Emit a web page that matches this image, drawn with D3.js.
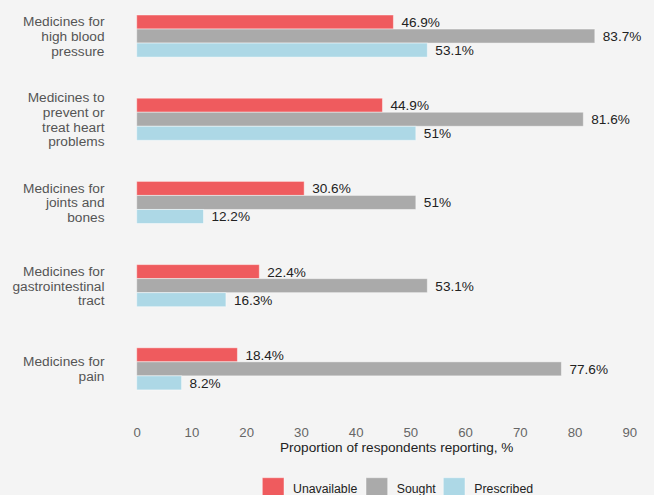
<!DOCTYPE html>
<html><head><meta charset="utf-8">
<script src="https://cdn.jsdelivr.net/npm/d3@7"></script>
<style>body{margin:0;background:#f4f4f4;}svg{display:block;font-family:"Liberation Sans",Arial,sans-serif;}</style>
</head><body><svg id="c" width="654" height="495"></svg>
<script>
const categories = [
  ["Medicines for","high blood","pressure"],
  ["Medicines to","prevent or","treat heart","problems"],
  ["Medicines for","joints and","bones"],
  ["Medicines for","gastrointestinal","tract"],
  ["Medicines for","pain"]
];
const seriesNames = ["Unavailable","Sought","Prescribed"];
const unavailable = [46.9, 44.9, 30.6, 22.4, 18.4];
const sought = [83.7, 81.6, 51, 53.1, 77.6];
const prescribed = [53.1, 51, 12.2, 16.3, 8.2];
const seriesValues = [unavailable, sought, prescribed];
const colors = ["#ef5b5e", "#aaaaaa", "#add8e6"];
const xTicks = [0,10,20,30,40,50,60,70,80,90];

const svg = d3.select("#c");
svg.append("rect").attr("width",654).attr("height",495).attr("fill","#f4f4f4");

const x = d3.scaleLinear().domain([0,90]).range([136.7,629.3]);
const step = 83.2;
const y = d3.scaleBand().domain(d3.range(categories.length)).range([15 - 0.247*step, 15 - 0.247*step + 5*step]).paddingInner(0.494).paddingOuter(0.247);
const ySub = d3.scaleBand().domain(d3.range(3)).range([0,y.bandwidth()]);

const g = svg.append("g");
categories.forEach((cat,i)=>{
  seriesValues.forEach((vals,s)=>{
    const v = vals[i];
    const y0 = y(i)+ySub(s);
    g.append("rect").attr("x",x(0)).attr("y",y0).attr("width",x(v)-x(0)).attr("height",ySub.bandwidth())
      .attr("fill",colors[s]).attr("stroke","#ffffff").attr("stroke-opacity",0.45).attr("stroke-width",1);
    g.append("text").attr("x",x(v)+8).attr("y",y0+ySub.bandwidth()/2).attr("dy","0.36em")
      .attr("font-size",13.6).attr("fill","#222").text(d3.format("")(v)+"%");
  });
  const cy = y(i)+y.bandwidth()/2;
  const lh = 14.8;
  const t = g.append("text").attr("text-anchor","end").attr("font-size",13.7).attr("fill","#555");
  cat.forEach((line,k)=>{
    t.append("tspan").attr("x",104.5).attr("y",cy+(k-(cat.length-1)/2)*lh).attr("dy","0.36em").text(line);
  });
});

const axis = d3.axisBottom(x).tickValues(xTicks).tickSize(0).tickPadding(0);
const ax = svg.append("g").attr("transform","translate(0,436.5)").call(axis);
ax.select(".domain").remove();
ax.selectAll("text").attr("font-size",13.2).attr("fill","#666").attr("font-family","Liberation Sans, Arial, sans-serif").attr("dy","0");

svg.append("text").attr("x",396.7).attr("y",451.7).attr("text-anchor","middle").attr("font-size",13.6).attr("fill","#222").text("Proportion of respondents reporting, %");

const legX = [262.3, 366, 443.3];
const legTX = [293, 396.7, 474.3];
seriesNames.forEach((n,s)=>{
  svg.append("rect").attr("x",legX[s]).attr("y",477.7).attr("width",21.7).attr("height",22).attr("fill",colors[s]).attr("stroke","#ffffff").attr("stroke-opacity",0.45);
  svg.append("text").attr("x",legTX[s]).attr("y",493.3).attr("font-size",12.3).attr("fill","#222").text(n);
});
</script></body></html>
